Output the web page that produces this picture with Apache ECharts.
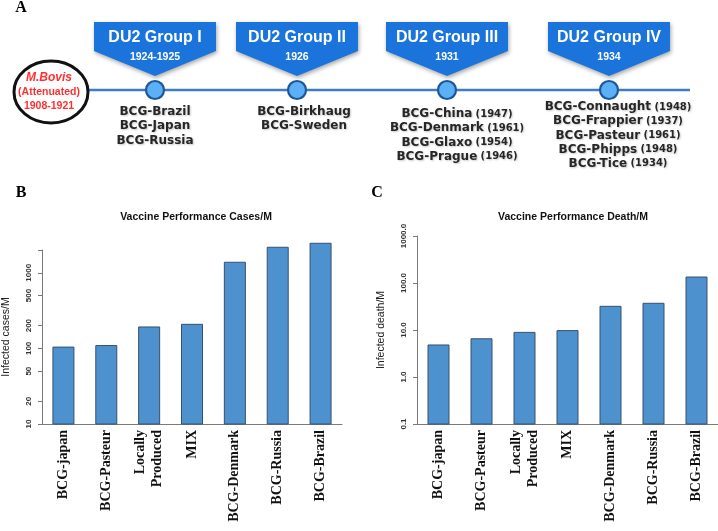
<!DOCTYPE html>
<html>
<head>
<meta charset="utf-8">
<script src="https://cdn.jsdelivr.net/npm/echarts@6/dist/echarts.min.js"></script>
<style>
  body { margin: 0; background: #fff; }
  #main { width: 718px; height: 531px; }
</style>
</head>
<body>
<div id="main"></div>
<script>
// panel A: BCG strain timeline
var originLines = ['M.Bovis', '(Attenuated)', '1908-1921'];
var groupNames = ['DU2 Group I', 'DU2 Group II', 'DU2 Group III', 'DU2 Group IV'];
var groupYears = ['1924-1925', '1926', '1931', '1934'];
var groupStrains = [
  ['BCG-Brazil', 'BCG-Japan', 'BCG-Russia'],
  ['BCG-Birkhaug', 'BCG-Sweden'],
  ['BCG-China', 'BCG-Denmark', 'BCG-Glaxo', 'BCG-Prague'],
  ['BCG-Connaught', 'BCG-Frappier', 'BCG-Pasteur', 'BCG-Phipps', 'BCG-Tice']
];
var strainYears = [
  ['', '', ''],
  ['', ''],
  ['1947', '1961', '1954', '1946'],
  ['1948', '1937', '1961', '1948', '1934']
];

// panels B and C: vaccine performance
var vaccines = ['BCG-japan', 'BCG-Pasteur', 'Locally\nProduced', 'MIX', 'BCG-Denmark', 'BCG-Russia', 'BCG-Brazil'];
var casesPerM = [104, 109, 192, 208, 1377, 2174, 2455];
var deathPerM = [4.8, 6.5, 8.9, 9.7, 31.9, 37, 134];
var casesTicks = [10, 20, 50, 100, 200, 500, 1000, 2000];
var casesLabels = [10, 20, 50, 100, 200, 500, 1000];
var deathTicks = [0.1, 1, 10, 100, 1000];

// timeline layout (pixels)
var nodeX = [155, 297, 447, 609];
var listDx = [0, 7, 10, 9];
var listTop = [112, 112, 114, 107];
var lineY = 90;

var myChart = echarts.init(document.getElementById('main'));

var gfx = [];
gfx.push({
  type: 'line', z: 1,
  shape: { x1: 86, y1: lineY, x2: 690, y2: lineY },
  style: { stroke: '#3f7cc4', lineWidth: 2.5 }
});
// origin circle
gfx.push({
  type: 'ellipse', z: 2,
  shape: { cx: 51, cy: 92, rx: 37, ry: 31 },
  style: { fill: '#fff', stroke: '#111', lineWidth: 3 }
});
var originFont = ['italic bold 12px "Liberation Sans"', 'bold 10.5px "Liberation Sans"', 'bold 10.5px "Liberation Sans"'];
originLines.forEach(function (t, i) {
  gfx.push({
    type: 'text', z: 3,
    style: { text: t, x: 49, y: 77.5 + i * 14.5, fill: '#ff3030', font: originFont[i], textAlign: 'center', textVerticalAlign: 'middle' }
  });
});

groupNames.forEach(function (name, g) {
  var cx = nodeX[g];
  gfx.push({
    type: 'polygon', z: 2,
    shape: { points: [[cx - 61, 22], [cx + 61, 22], [cx + 61, 51], [cx, 76], [cx - 61, 51]] },
    style: { fill: '#1a74dc', shadowBlur: 4, shadowColor: 'rgba(0,0,0,0.35)', shadowOffsetX: 1, shadowOffsetY: 2 }
  });
  gfx.push({
    type: 'text', z: 3,
    style: { text: name, x: cx, y: 38, fill: '#fff', font: 'bold 16px "Liberation Sans"', textAlign: 'center', textVerticalAlign: 'middle' }
  });
  gfx.push({
    type: 'text', z: 3,
    style: { text: groupYears[g], x: cx, y: 57, fill: '#fff', font: 'bold 10.5px "Liberation Sans"', textAlign: 'center', textVerticalAlign: 'middle' }
  });
  gfx.push({
    type: 'circle', z: 3,
    shape: { cx: cx, cy: lineY, r: 9 },
    style: { fill: '#5cb0f5', stroke: '#1e5799', lineWidth: 2.2 }
  });
  groupStrains[g].forEach(function (s, k) {
    var yr = strainYears[g][k];
    gfx.push({
      type: 'text', z: 3,
      style: {
        text: yr ? '{n|' + s + '} {y|(' + yr + ')}' : '{n|' + s + '}',
        x: cx + listDx[g], y: listTop[g] + k * 14.2,
        textAlign: 'center', textVerticalAlign: 'middle',
        fill: '#262626',
        rich: {
          n: { fontFamily: 'DejaVu Sans', fontSize: 12, fontWeight: 'bold', color: '#262626' },
          y: { fontFamily: 'DejaVu Sans', fontSize: 10, fontWeight: 'bold', color: '#262626' }
        },
        textShadowColor: 'rgba(0,0,0,0.22)', textShadowBlur: 2, textShadowOffsetX: 1, textShadowOffsetY: 1
      }
    });
  });
});

// panel letters
[['A', 21, 8], ['B', 21, 193], ['C', 377, 193]].forEach(function (p) {
  gfx.push({
    type: 'text', z: 3,
    style: { text: p[0], x: p[1], y: p[2], fill: '#000', font: 'bold 16px "Liberation Serif"', textAlign: 'center', textVerticalAlign: 'middle' }
  });
});

var axisGray = '#7a7a7a';

function catAxis(idx) {
  return {
    gridIndex: idx,
    type: 'category',
    data: vaccines,
    axisLine: { lineStyle: { color: axisGray } },
    axisTick: { alignWithLabel: true, length: 3, lineStyle: { color: axisGray } },
    axisLabel: {
      rotate: 90, interval: 0, margin: 6,
      fontFamily: 'Liberation Serif', fontWeight: 'bold', fontSize: 14, color: '#111', lineHeight: 17
    }
  };
}

function logAxis(idx, min, max, ticks, labels, name, fmt) {
  return {
    gridIndex: idx,
    type: 'log',
    logBase: 10,
    min: min,
    max: max,
    name: name,
    nameLocation: 'middle',
    nameGap: 30,
    nameTextStyle: { fontFamily: 'Liberation Sans', fontSize: 10.5, color: '#222' },
    axisLine: { show: true, lineStyle: { color: axisGray } },
    axisTick: { show: true, length: 4, customValues: ticks, lineStyle: { color: axisGray } },
    axisLabel: {
      rotate: 90, margin: 9, fontFamily: 'Liberation Sans', fontSize: 8, fontWeight: 'bold', color: '#333',
      customValues: labels, formatter: fmt
    },
    splitLine: { show: false }
  };
}

// bars drawn from the axis minimum (log axes have no zero)
function barSeries(idx, values, baseValue) {
  return {
    type: 'custom',
    xAxisIndex: idx,
    yAxisIndex: idx,
    data: values.map(function (v, i) { return [i, v]; }),
    renderItem: function (params, api) {
      var top = api.coord([api.value(0), api.value(1)]);
      var base = api.coord([api.value(0), baseValue]);
      var w = 21;
      return {
        type: 'rect',
        shape: { x: top[0] - w / 2, y: top[1], width: w, height: base[1] - top[1] },
        style: { fill: '#4e91cf', stroke: '#36516d', lineWidth: 1 }
      };
    }
  };
}

var option = {
  animation: false,
  title: [
    {
      text: 'Vaccine Performance Cases/M', left: 191, top: 207, textAlign: 'center',
      textStyle: { fontFamily: 'Liberation Sans', fontSize: 10.5, fontWeight: 'bold', color: '#111' }
    },
    {
      text: 'Vaccine Performance Death/M', left: 568, top: 207, textAlign: 'center',
      textStyle: { fontFamily: 'Liberation Sans', fontSize: 10.5, fontWeight: 'bold', color: '#111' }
    }
  ],
  grid: [
    { left: 41, top: 250, width: 301, height: 174 },
    { left: 417, top: 236, width: 301, height: 188 }
  ],
  xAxis: [catAxis(0), catAxis(1)],
  yAxis: [
    logAxis(0, 10, 2000, casesTicks, casesLabels, 'Infected cases/M', function (v) { return String(v); }),
    logAxis(1, 0.1, 1000, deathTicks, deathTicks, 'Infected death/M', function (v) { return v.toFixed(1); })
  ],
  series: [
    barSeries(0, casesPerM, 10),
    barSeries(1, deathPerM, 0.1)
  ],
  graphic: gfx
};

myChart.setOption(option);
</script>
</body>
</html>
